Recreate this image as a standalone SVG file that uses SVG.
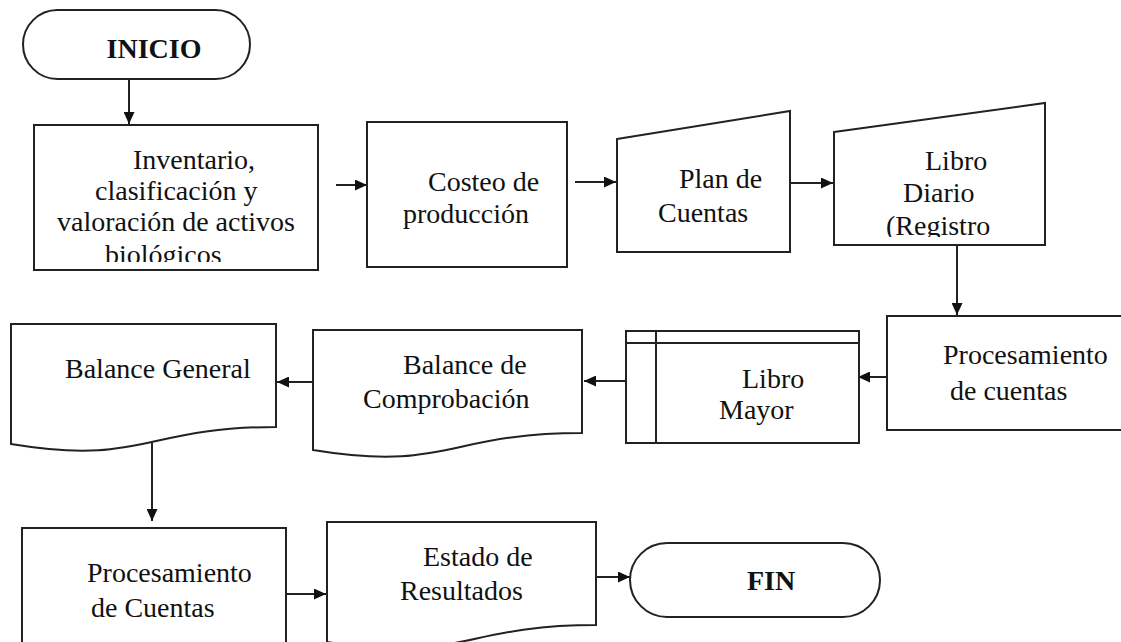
<svg xmlns="http://www.w3.org/2000/svg" width="1121" height="642" viewBox="0 0 1121 642">
<style>
.s{fill:#fff;stroke:#222;stroke-width:2}
.l{fill:none;stroke:#222;stroke-width:2}
.t{font-family:"Liberation Serif","Times New Roman",serif;font-size:28px;fill:#111}
.b{font-weight:bold;text-anchor:middle}
</style>
<defs>
<marker id="ah" markerUnits="userSpaceOnUse" markerWidth="12" markerHeight="11" refX="12" refY="5.5" orient="auto">
<path d="M0,0 L12,5.5 L0,11 Z" fill="#111"/>
</marker>
<clipPath id="c1"><rect x="34" y="125" width="284" height="137"/></clipPath>
<clipPath id="c2"><rect x="834" y="100" width="211" height="137"/></clipPath>
</defs>
<rect width="1121" height="642" fill="#fff"/>
<g id="connectors">
<path class="l" marker-end="url(#ah)" d="M129,79 V124"/>
<path class="l" marker-end="url(#ah)" d="M336,185 H367"/>
<path class="l" marker-end="url(#ah)" d="M575,182 H616"/>
<path class="l" marker-end="url(#ah)" d="M790,183 H833"/>
<path class="l" marker-end="url(#ah)" d="M957,245 V315"/>
<path class="l" marker-end="url(#ah)" d="M887,377 H858"/>
<path class="l" marker-end="url(#ah)" d="M625,381 H584"/>
<path class="l" marker-end="url(#ah)" d="M313,382 H277"/>
<path class="l" marker-end="url(#ah)" d="M152,443 V521"/>
<path class="l" marker-end="url(#ah)" d="M286,594 H326"/>
<path class="l" marker-end="url(#ah)" d="M596,577 H630"/>
</g>
<g id="inicio">
<rect class="s" x="23" y="10" width="227" height="69" rx="34.5"/>
<text class="t b" x="154" y="58">INICIO</text>
</g>
<g id="inventario">
<rect class="s" x="34" y="125" width="284" height="145"/>
<g clip-path="url(#c1)">
<text class="t" x="133" y="169">Inventario,</text>
<text class="t" x="95" y="200">clasificación y</text>
<text class="t" x="57" y="231">valoración de activos</text>
<text class="t" x="105" y="264">biológicos</text>
</g>
</g>
<g id="costeo">
<rect class="s" x="367" y="122" width="200" height="145"/>
<text class="t" x="428" y="191">Costeo de</text>
<text class="t" x="403" y="223">producción</text>
</g>
<g id="plan">
<path class="s" d="M617,139 L790,111 L790,252 L617,252 Z"/>
<text class="t" x="679" y="188">Plan de</text>
<text class="t" x="658" y="222">Cuentas</text>
</g>
<g id="diario">
<path class="s" d="M834,132 L1045,103 L1045,245 L834,245 Z"/>
<g clip-path="url(#c2)">
<text class="t" x="925" y="170">Libro</text>
<text class="t" x="903" y="202">Diario</text>
<text class="t" x="886" y="235">(Registro</text>
</g>
</g>
<g id="procesamiento1">
<rect class="s" x="887" y="316" width="260" height="114"/>
<text class="t" x="943" y="364">Procesamiento</text>
<text class="t" x="950" y="400">de cuentas</text>
</g>
<g id="mayor">
<rect class="s" x="626" y="331" width="233" height="112"/>
<path class="l" d="M626,343 H859 M656,331 V443"/>
<text class="t" x="742" y="388">Libro</text>
<text class="t" x="719" y="419">Mayor</text>
</g>
<g id="comprobacion">
<path class="s" d="M313,330 H582 V433 C447.5,433 447.5,472 313,450 Z"/>
<text class="t" x="403" y="374">Balance de</text>
<text class="t" x="363" y="408">Comprobación</text>
</g>
<g id="general">
<path class="s" d="M11,324 H276 V427 C143.5,427 143.5,466 11,444 Z"/>
<text class="t" x="65" y="378">Balance General</text>
</g>
<g id="procesamiento2">
<rect class="s" x="22" y="528" width="264" height="140"/>
<text class="t" x="87" y="582">Procesamiento</text>
<text class="t" x="91" y="617">de Cuentas</text>
</g>
<g id="estado">
<path class="s" d="M327,522 H596 V625 C461.5,625 461.5,664 327,642 Z"/>
<text class="t" x="423" y="566">Estado de</text>
<text class="t" x="400" y="600">Resultados</text>
</g>
<g id="fin">
<rect class="s" x="630" y="543" width="250" height="74" rx="37"/>
<text class="t b" x="771" y="590">FIN</text>
</g>
</svg>
